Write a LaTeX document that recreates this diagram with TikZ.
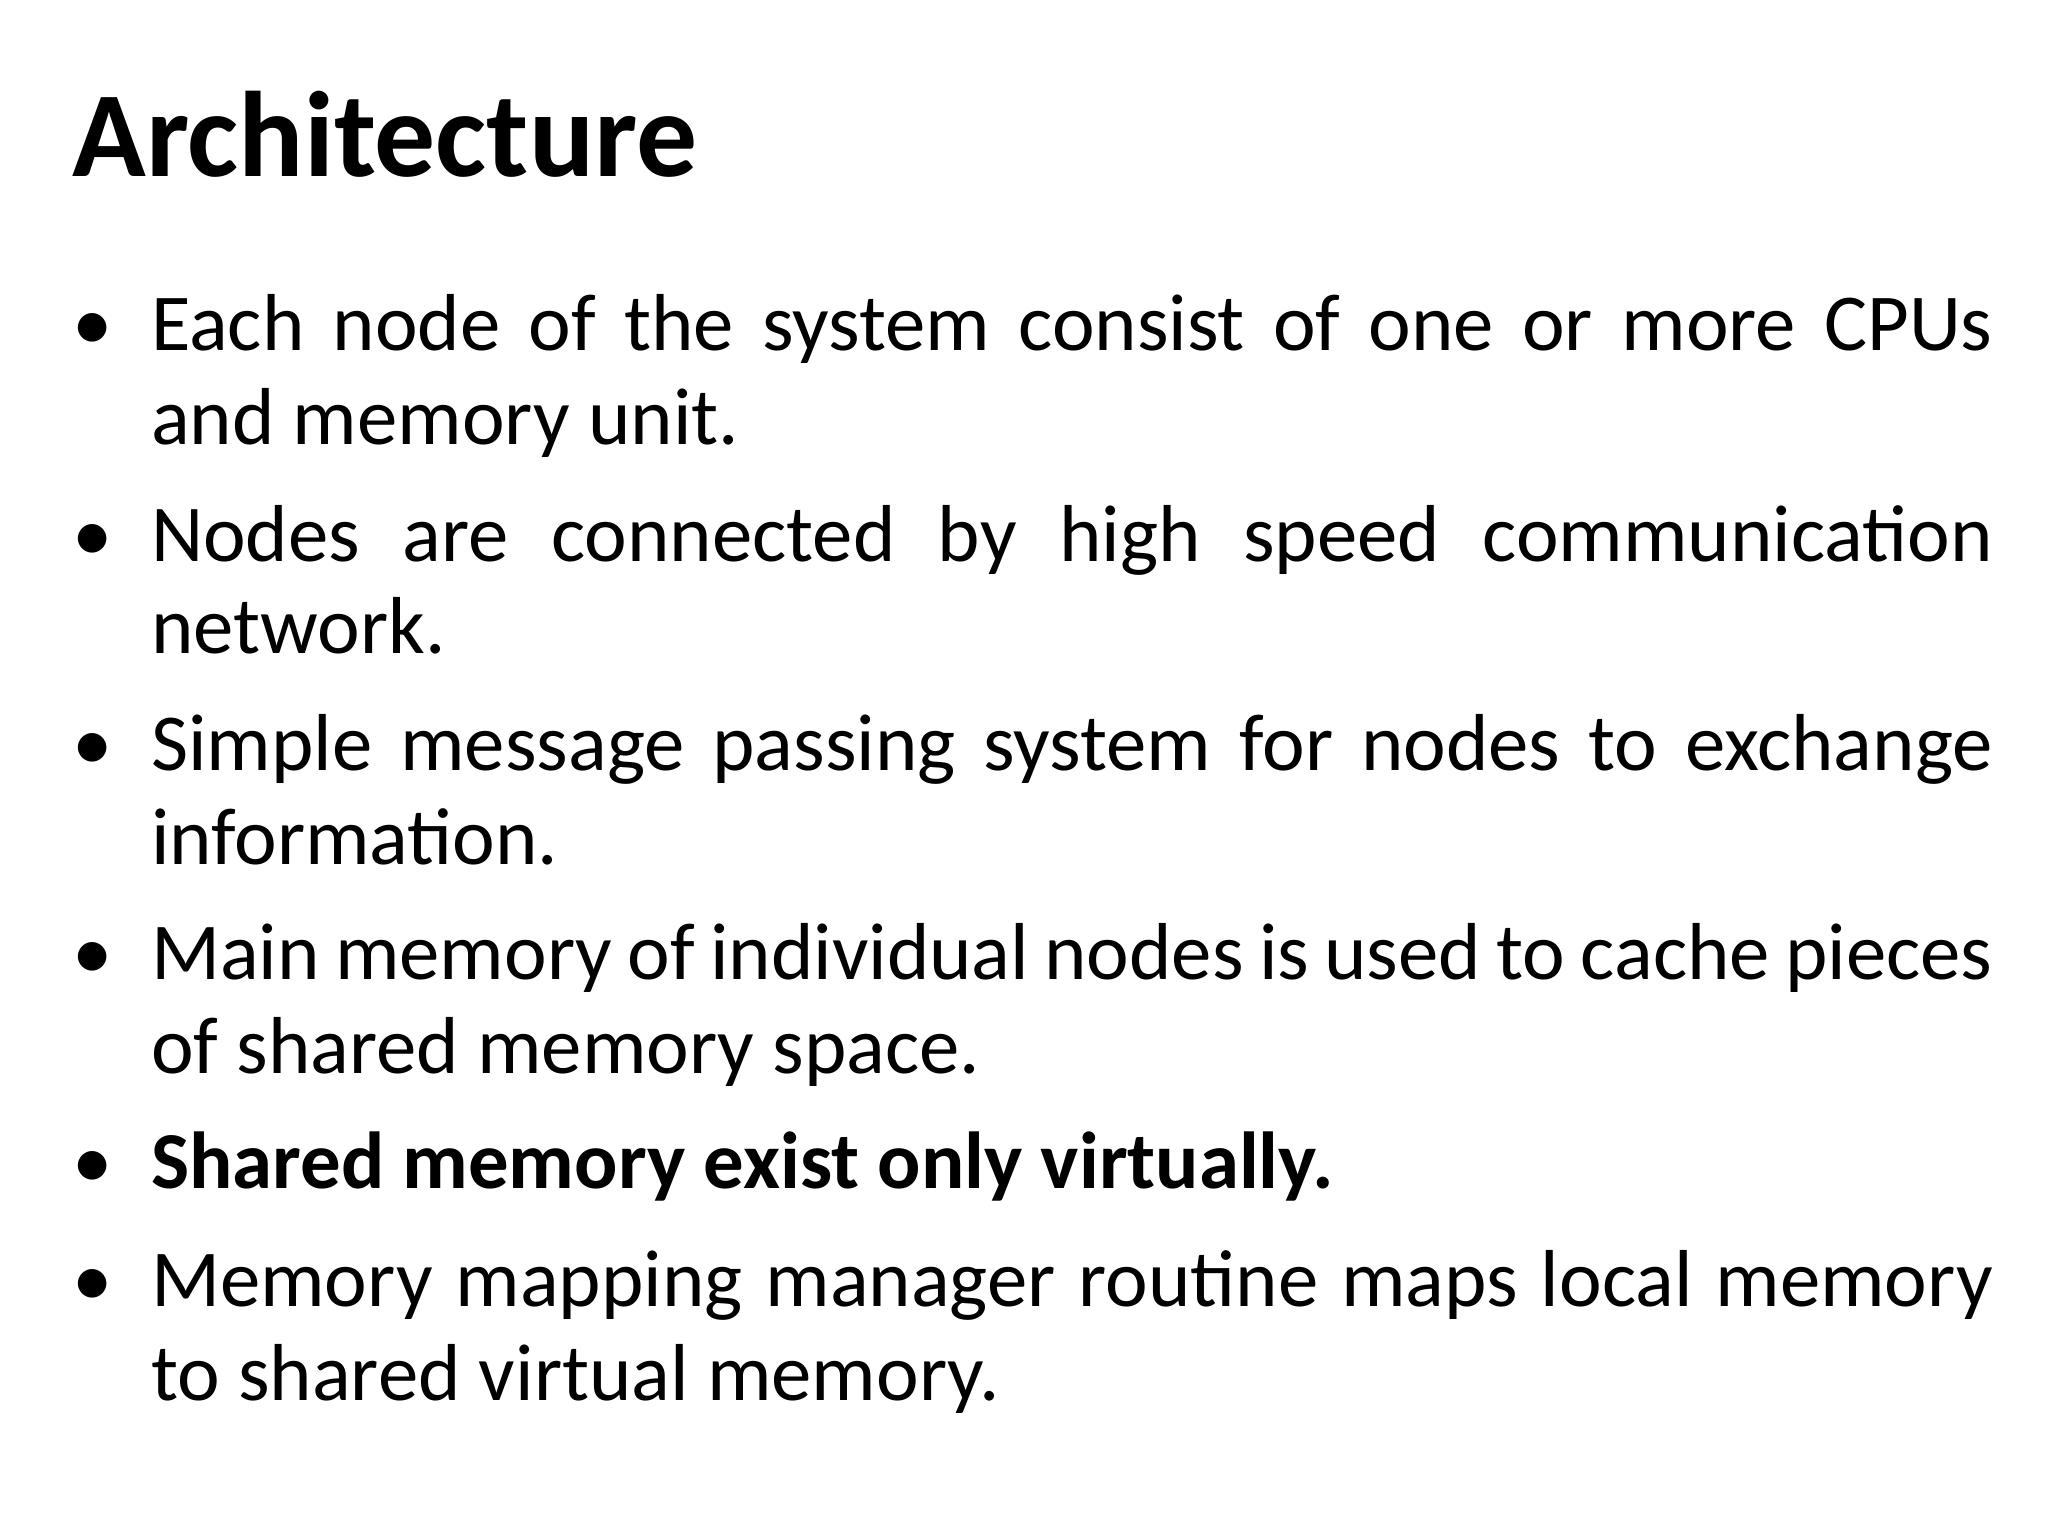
\documentclass[tikz,border=0pt]{standalone}
\usepackage{fontspec}
\setmainfont{Carlito}
\begin{document}
\begin{tikzpicture}[x=1cm,y=-1cm,
  ln/.style={anchor=base west,inner sep=0pt,font=\fontsize{17.6}{20}\selectfont},
  bl/.style={anchor=base west,inner sep=0pt,font=\fontsize{17.6}{20}\selectfont}]
\useasboundingbox[fill=white] (0,0) rectangle (15.68,11.76);
\node[anchor=base west,inner sep=0pt,font=\fontsize{26.5}{30}\selectfont\bfseries] (title) at (0.55,1.35) {Architecture};
\newcommand{\J}[1]{\makebox[14.1cm][s]{#1}}
\foreach \y/\n in {2.68/b1,4.30/b2,5.90/b3,7.50/b4,9.10/b5,10.00/b6}
  \node[bl] (\n) at (0.55,\y) {•};
\node[ln] (l1) at (1.15,2.68) {\J{Each node of the system consist of one or more CPUs}};
\node[ln] (l2) at (1.15,3.40) {and memory unit.};
\node[ln] (l3) at (1.15,4.30) {\J{Nodes are connected by high speed communication}};
\node[ln] (l4) at (1.15,5.00) {network.};
\node[ln] (l5) at (1.15,5.90) {\J{Simple message passing system for nodes to exchange}};
\node[ln] (l6) at (1.15,6.62) {information.};
\node[ln] (l7) at (1.15,7.50) {\J{Main memory of individual nodes is used to cache pieces}};
\node[ln] (l8) at (1.15,8.22) {of shared memory space.};
\node[ln,font=\fontsize{17.6}{20}\selectfont\bfseries] (l9) at (1.15,9.10) {Shared memory exist only virtually.};
\node[ln] (l10) at (1.15,10.00) {\J{Memory mapping manager routine maps local memory}};
\node[ln] (l11) at (1.15,10.72) {to shared virtual memory.};
\end{tikzpicture}
\end{document}
